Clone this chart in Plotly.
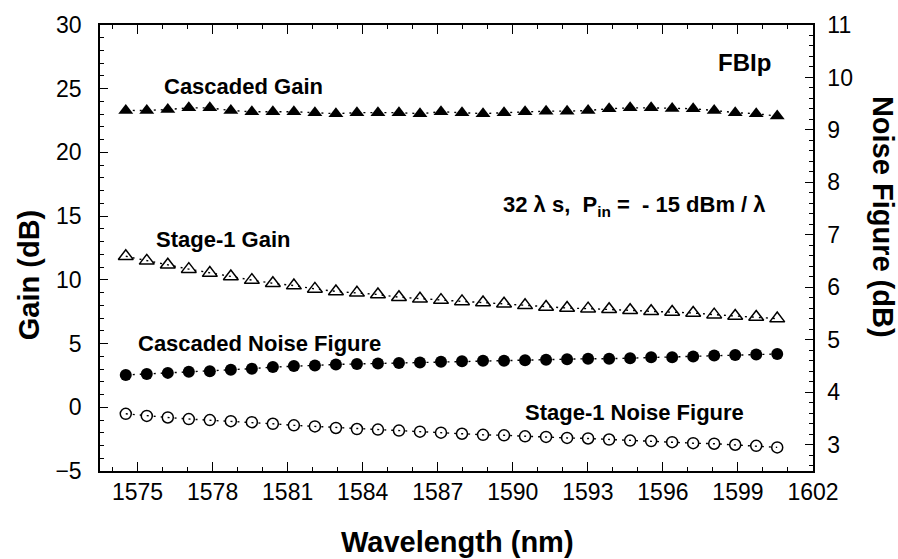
import plotly.graph_objects as go

# Channel wavelengths (nm), 32 WDM channels
wavelength = [1574.53, 1575.37, 1576.21, 1577.05, 1577.89, 1578.73, 1579.57, 1580.41,
              1581.25, 1582.09, 1582.93, 1583.77, 1584.61, 1585.45, 1586.29, 1587.13,
              1587.97, 1588.81, 1589.65, 1590.49, 1591.33, 1592.17, 1593.01, 1593.85,
              1594.69, 1595.53, 1596.37, 1597.21, 1598.05, 1598.89, 1599.73, 1600.57]

# Gain (dB), left axis
cascaded_gain = [23.30, 23.29, 23.37, 23.50, 23.50, 23.29, 23.19, 23.19,
                 23.19, 23.12, 23.04, 23.12, 23.12, 23.12, 23.04, 23.19,
                 23.12, 23.04, 23.12, 23.19, 23.24, 23.24, 23.29, 23.43,
                 23.50, 23.50, 23.45, 23.43, 23.29, 23.12, 23.04, 22.85]
stage1_gain = [11.85, 11.49, 11.18, 10.84, 10.53, 10.27, 9.98, 9.73,
               9.55, 9.29, 9.09, 8.98, 8.85, 8.64, 8.51, 8.41,
               8.31, 8.22, 8.12, 8.00, 7.87, 7.79, 7.74, 7.69,
               7.61, 7.53, 7.48, 7.40, 7.27, 7.17, 7.09, 6.96]

# Noise figure (dB), right axis
cascaded_nf = [4.33, 4.35, 4.37, 4.39, 4.40, 4.43, 4.45, 4.48,
               4.50, 4.51, 4.53, 4.54, 4.55, 4.56, 4.57, 4.58,
               4.59, 4.60, 4.60, 4.61, 4.62, 4.63, 4.64, 4.64,
               4.65, 4.67, 4.67, 4.68, 4.70, 4.71, 4.72, 4.73]
stage1_nf = [3.59, 3.55, 3.52, 3.49, 3.47, 3.45, 3.43, 3.40,
             3.37, 3.35, 3.32, 3.30, 3.29, 3.27, 3.25, 3.23,
             3.21, 3.19, 3.18, 3.16, 3.15, 3.13, 3.12, 3.10,
             3.08, 3.07, 3.05, 3.03, 3.02, 3.00, 2.98, 2.95]

FONT = "Liberation Sans, Arial, sans-serif"
DOTS = dict(color="black", width=1.4, dash="2px,5px")

fig = go.Figure()

fig.add_trace(go.Scatter(x=wavelength, y=cascaded_gain, mode="lines+markers",
                         line=DOTS, name="Cascaded Gain",
                         marker=dict(symbol="triangle-up", size=13, color="black")))
fig.add_trace(go.Scatter(x=wavelength, y=stage1_gain, mode="lines+markers",
                         line=DOTS, name="Stage-1 Gain",
                         marker=dict(symbol="triangle-up-open", size=13, color="black",
                                     line=dict(width=1.5, color="black"))))
fig.add_trace(go.Scatter(x=wavelength, y=cascaded_nf, mode="lines+markers", yaxis="y2",
                         line=DOTS, name="Cascaded Noise Figure",
                         marker=dict(symbol="circle", size=12, color="black")))
fig.add_trace(go.Scatter(x=wavelength, y=stage1_nf, mode="lines+markers", yaxis="y2",
                         line=DOTS, name="Stage-1 Noise Figure",
                         marker=dict(symbol="circle-open", size=11, color="black",
                                     line=dict(width=1.5, color="black"))))

tick_font = dict(family=FONT, size=23, color="black")
axis_common = dict(showline=True, linecolor="black", linewidth=1.5, showgrid=False,
                   zeroline=False, ticks="inside", tickcolor="black", tickwidth=1.3,
                   tickfont=tick_font)

fig.update_layout(
    width=898, height=559,
    margin=dict(l=100, r=85, t=20, b=88),
    paper_bgcolor="white", plot_bgcolor="white",
    showlegend=False,
    xaxis=dict(range=[1573.5, 1602], tickmode="array",
               tickvals=[1575, 1578, 1581, 1584, 1587, 1590, 1593, 1596, 1599, 1602],
               ticklen=9, mirror="ticks", ticklabelstandoff=0,
               minor=dict(dtick=1, ticks="inside", ticklen=4, tickcolor="black", tickwidth=1.2),
               **axis_common),
    yaxis=dict(range=[-5, 30], dtick=5, ticklen=8, ticklabelstandoff=12,
               minor=dict(dtick=1, ticks="inside", ticklen=4, tickcolor="black", tickwidth=1.2),
               **axis_common),
    yaxis2=dict(range=[2.5, 11], dtick=1, ticklen=8, overlaying="y", side="right",
                ticklabelstandoff=8,
                minor=dict(dtick=0.2, ticks="inside", ticklen=4, tickcolor="black", tickwidth=1.2),
                **axis_common),
)

bold = dict(family=FONT, size=22, color="black")
labels = [
    ("<b>Cascaded Gain</b>", 1579.24, 25.19),
    ("<b>Stage-1 Gain</b>", 1578.40, 13.16),
    ("<b>Cascaded Noise Figure</b>", 1579.89, 5.01),
    ("<b>Stage-1 Noise Figure</b>", 1594.88, -0.42),
    ("<b>32 λ s,  P<sub>in</sub> =  - 15 dBm / λ</b>", 1594.88, 15.8),
]
for text, x, y in labels:
    fig.add_annotation(text=text, x=x, y=y, xref="x", yref="y", showarrow=False,
                       xanchor="center", yanchor="middle", font=bold)
fig.add_annotation(text="<b>FBIp</b>", x=1599.28, y=27.05, xref="x", yref="y",
                   showarrow=False, xanchor="center", yanchor="middle",
                   font=dict(family=FONT, size=24, color="black"))

title_font = dict(family=FONT, size=29, color="black")
fig.add_annotation(text="<b>Wavelength (nm)</b>", x=0.502, y=-0.16, xref="paper", yref="paper",
                   showarrow=False, xanchor="center", yanchor="middle", font=title_font)
fig.add_annotation(text="<b>Gain (dB)</b>", x=-0.1003, y=0.44, xref="paper", yref="paper",
                   showarrow=False, xanchor="center", yanchor="middle", textangle=-90,
                   font=title_font)
fig.add_annotation(text="<b>Noise Figure (dB)</b>", x=1.098, y=0.57, xref="paper", yref="paper",
                   showarrow=False, xanchor="center", yanchor="middle", textangle=90,
                   font=title_font)

fig.write_html("out.html")
